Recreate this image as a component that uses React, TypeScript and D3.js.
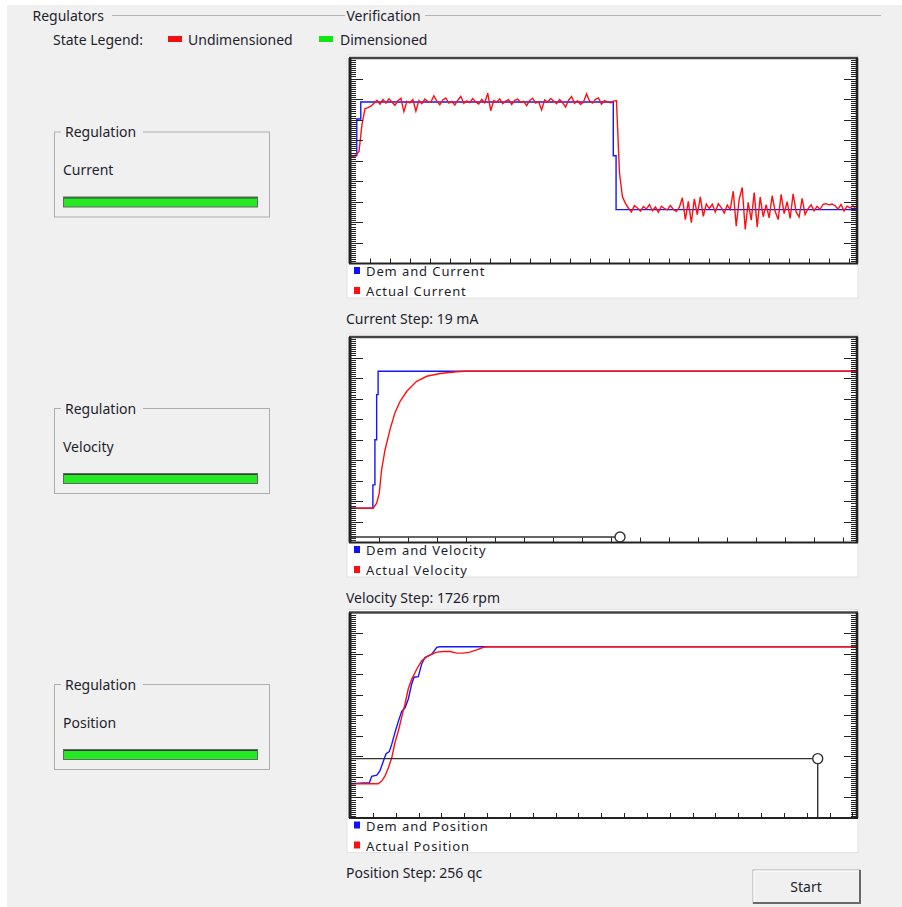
import React from "react";
import * as d3 from "d3";

// ---------- data read off the scopes ----------
// current loop (mA), demand is a step signal, actual sampled every 1.5 ms
const CURRENT_SAMPLE = 1.5;
const currentDemandT = [0, 3.4, 5.4, 131.9, 133.3, 254];
const currentDemand = [0, 13, 19, 0, -19, -19];
const currentActual = [
  -0.5, -0.3, 0.3, 1.5, 11, 16.6, 17, 17.5, 18.5,
  19.6, 18.2, 19.9, 18.6, 20.1, 19.0, 17.8, 19.4, 20.3, 15.6,
  19.2, 18.7, 19.8, 15.8, 19.5, 18.4, 20.0, 19.1, 18.9, 21.2,
  19.3, 18.0, 19.7, 20.4, 18.6, 19.2, 17.9, 19.6, 21.0, 18.5,
  19.4, 18.8, 20.2, 19.0, 18.3, 19.9, 18.7, 22.1, 15.9, 19.5,
  18.9, 20.1, 18.4, 19.3, 19.8, 18.1, 19.6, 20.0, 18.8, 19.2,
  17.7, 19.5, 20.3, 18.6, 19.1, 16.2, 19.7, 18.9, 20.2, 19.3,
  18.4, 19.8, 18.8, 17.2, 19.6, 20.9, 18.5, 19.4, 18.1, 19.0,
  21.8, 19.3, 18.6, 19.9, 20.4, 18.2, 19.5, 19.0, 18.7, 19.3,
  19.5,
  -6, -14.5, -16.8, -18.5,
  -19.8, -17.6, -18.4, -19.5, -17.9, -18.8, -17.2, -19.4, -18.1, -19.9, -17.8, -18.6, -19.1, -17.5, -18.9, -19.6, -18.2,
  -14.8, -22.5, -16.1, -23.6, -15.2, -20.8, -14.5, -21.4, -17.0,
  -18.6, -17.1, -19.8, -16.9, -18.3, -20.2, -17.4, -19.0,
  -12.5, -24.8, -15.3, -11.2, -26.0, -16.4, -22.7, -13.0, -25.1, -14.6, -21.5, -17.2,
  -21.9, -14.1, -19.6, -22.5, -13.6, -20.4, -16.2, -22.1, -13.4, -19.8, -21.6, -15.0, -20.7,
  -18.6, -17.3, -19.4, -17.8, -18.9, -17.1, -16.9, -17.3, -17.0, -17.6, -18.8, -17.2, -19.5, -17.8, -18.4, -17.6, -18.9,
];

// velocity loop (rpm)
const velocityDemandT = [0, 7.9, 8.6, 9.2, 9.7, 175];
const velocityDemand = [0, 295, 863, 1432, 1726, 1726];
const velocityActualT = [0, 8.0, 9.2, 10.1, 10.9, 12.1, 13.8, 15.5, 17.3, 19.6, 23.0, 26.5, 31.1, 36.8, 39.6, 175];
const velocityActual = [0, 0, 63, 190, 484, 737, 990, 1201, 1347, 1474, 1600, 1663, 1698, 1719, 1726, 1726];

// position loop (qc)
const positionDemandT = [0, 8.5, 9.5, 11.7, 13.1, 14.6, 15.8, 17.2, 18.3, 19.7, 21.2, 22.6, 24.1, 25.5, 27.0, 28.0, 29.9, 31.4, 32.8, 34.3, 35.8, 38.0, 39.3, 222];
const positionDemand = [0, 2, 14, 16, 24, 42, 56, 60, 74, 96, 117, 135, 142, 158, 186, 199, 200, 224, 236, 239, 242, 255, 256, 256];
const positionActualT = [0, 12.3, 13.9, 15.3, 16.8, 18.3, 19.7, 21.2, 22.6, 24.1, 25.5, 27.0, 29.2, 31.4, 33.6, 35.8, 38.0, 40.9, 43.8, 46.7, 49.6, 52.5, 55.5, 58.4, 59.9, 222];
const positionActual = [0, 0, 5, 14, 30, 49, 77, 99, 124, 149, 177, 195, 214, 230, 237, 242, 246, 247, 247, 244, 244, 246, 250, 255, 256, 256];

const regulators = ["Current", "Velocity", "Position"];
const stepTexts = ["Current Step: 19 mA", "Velocity Step: 1726 rpm", "Position Step: 256 qc"];
const demandLabels = ["Dem and Current", "Dem and Velocity", "Dem and Position"];
const actualLabels = ["Actual  Current", "Actual  Velocity", "Actual  Position"];

const FONT = "'Noto Sans', 'Open Sans', sans-serif";
const TXT = "#1e1e2e";
const BG = "#f0f0f0";
const X0 = 350;
const X1 = 857;
const PH = 205.5;

type Pt = [number, number];

const zip = (t: number[], v: number[]): Pt[] => t.map((d, i) => [d, v[i]]);

const scopes = [
  {
    top: 58,
    xMax: 254,
    yDomain: [-38, 34.5],
    demand: zip(currentDemandT, currentDemand),
    demandStep: true,
    actual: currentActual.map((v, i) => [i * CURRENT_SAMPLE, v] as Pt),
    marker: null as null | Pt,
  },
  {
    top: 337,
    xMax: 175,
    yDomain: [-431.5, 2157.5],
    demand: zip(velocityDemandT, velocityDemand),
    demandStep: true,
    actual: zip(velocityActualT, velocityActual),
    marker: [93.2, -363] as Pt,
  },
  {
    top: 612.5,
    xMax: 222,
    yDomain: [-64, 320],
    demand: zip(positionDemandT, positionDemand),
    demandStep: false,
    actual: zip(positionActualT, positionActual),
    marker: [204.8, 47] as Pt,
  },
];

function Scope({ cfg, idx }: { cfg: (typeof scopes)[number]; idx: number }) {
  const top = cfg.top;
  const bottom = top + PH;
  const x = d3.scaleLinear().domain([0, cfg.xMax]).range([X0, X1]);
  const y = d3.scaleLinear().domain(cfg.yDomain).range([bottom, top]);
  const line = d3.line<Pt>().x((d) => x(d[0])).y((d) => y(d[1]));
  const demandPath = (cfg.demandStep ? line.curve(d3.curveStepAfter) : line.curve(d3.curveLinear))(cfg.demand) || "";
  const actualPath = d3.line<Pt>().x((d) => x(d[0])).y((d) => y(d[1]))(cfg.actual) || "";
  // axis graduations: 10 major divisions, 10 minor each
  const div = d3.scaleLinear().domain([0, 100]).range([bottom, top]);
  const yTicks = d3.range(1, 100);
  const xTicks = d3.range(10, cfg.xMax, 10);
  const clip = `clip${idx}`;
  return (
    <g>
      <rect x={347} y={top - 3} width={511} height={243} fill="#fff" stroke="#e2e2e2" />
      <defs>
        <clipPath id={clip}>
          <rect x={X0} y={top} width={X1 - X0} height={PH} />
        </clipPath>
      </defs>
      <g clipPath={`url(#${clip})`} fill="none" strokeWidth={1.4}>
        <path d={demandPath} stroke="#1414ff" />
        <path d={actualPath} stroke="#ff1010" />
      </g>
      {cfg.marker && (
        <g stroke="#333" strokeWidth={1.4}>
          <line x1={X0} x2={x(cfg.marker[0])} y1={y(cfg.marker[1])} y2={y(cfg.marker[1])} />
          <line x1={x(cfg.marker[0])} x2={x(cfg.marker[0])} y1={y(cfg.marker[1])} y2={bottom} />
          <circle cx={x(cfg.marker[0])} cy={y(cfg.marker[1])} r={5} fill="#fff" />
        </g>
      )}
      <g stroke="#222" strokeWidth={1}>
        {yTicks.map((t) => {
          const len = t % 10 === 0 ? 13 : 6;
          const yy = Math.round(div(t)) + 0.5;
          return (
            <g key={t}>
              <line x1={X0} x2={X0 + len} y1={yy} y2={yy} />
              <line x1={X1} x2={X1 - len} y1={yy} y2={yy} />
            </g>
          );
        })}
        {xTicks.map((t) => (
          <line key={t} x1={Math.round(x(t)) + 0.5} x2={Math.round(x(t)) + 0.5} y1={bottom} y2={bottom - 5} />
        ))}
      </g>
      <g fill="none" stroke="#222">
        <line x1={X0 - 1} x2={X1 + 1} y1={top} y2={top} strokeWidth={2.5} stroke="#444" />
        <line x1={X0 - 1} x2={X1 + 1} y1={bottom} y2={bottom} strokeWidth={2} />
        <line x1={X0} x2={X0} y1={top} y2={bottom} strokeWidth={3} />
        <line x1={X1} x2={X1} y1={top} y2={bottom} strokeWidth={2.5} />
      </g>
      <g fontFamily={FONT} fontSize={13} fill={TXT} letterSpacing={0.9} style={{ whiteSpace: "pre" }}>
        <rect x={354} y={top + 209} width={6} height={7} fill="#1010ff" />
        <text x={366} y={top + 218}>{demandLabels[idx]}</text>
        <rect x={354} y={top + 229} width={6} height={7} fill="#ff1010" />
        <text x={366} y={top + 238}>{actualLabels[idx]}</text>
      </g>
      <text x={346} y={top + 265.5} fontFamily={FONT} fontSize={14} fill={TXT}>
        {stepTexts[idx]}
      </text>
    </g>
  );
}

function RegBox({ top, name }: { top: number; name: string }) {
  return (
    <g fontFamily={FONT} fontSize={14} fill={TXT}>
      <rect x={54.5} y={top + 0.5} width={215} height={85} fill="none" stroke="#adadad" />
      <rect x={61} y={top - 4} width={82} height={9} fill={BG} />
      <text x={65} y={top + 5.5}>Regulation</text>
      <text x={63} y={top + 43.5}>{name}</text>
      <rect x={63.5} y={top + 65.5} width={194} height={10} fill="#24ea24" stroke="#666" />
      <line x1={64} x2={257} y1={top + 66.5} y2={top + 66.5} stroke="#3a3a3a" />
    </g>
  );
}

export default function App() {
  const boxTops = [131.5, 408, 684];
  return (
    <svg
      width={902}
      height={907}
      style={{ position: "absolute", left: 0, top: 0, display: "block" }}
    >
      <rect width={902} height={907} fill="#fff" />
      <rect x={7} y={5} width={895} height={902} fill={BG} />
      <g fontFamily={FONT} fontSize={14} fill={TXT}>
        <text x={32.5} y={20.5}>Regulators</text>
        <line x1={112} x2={345} y1={15.5} y2={15.5} stroke="#b4b4b4" />
        <text x={346.5} y={20.5}>Verification</text>
        <line x1={425} x2={881} y1={15.5} y2={15.5} stroke="#b4b4b4" />
        <text x={53} y={45}>State Legend:</text>
        <rect x={168} y={36} width={14} height={6} fill="#f01010" />
        <text x={188} y={45}>Undimensioned</text>
        <rect x={319} y={36} width={14} height={6} fill="#10e810" />
        <text x={340} y={45}>Dimensioned</text>
      </g>
      {regulators.map((r, i) => (
        <RegBox key={r} top={boxTops[i]} name={r} />
      ))}
      {scopes.map((s, i) => (
        <Scope key={i} cfg={s} idx={i} />
      ))}
      <g>
        <rect x={753} y={870} width={107} height={33} fill="#f0f0f0" stroke="#adadad" />
        <line x1={754} x2={859} y1={871} y2={871} stroke="#fff" />
        <line x1={754} x2={754} y1={871} y2={902} stroke="#fff" />
        <line x1={753} x2={860.5} y1={903} y2={903} stroke="#696969" strokeWidth={2} />
        <line x1={860} x2={860} y1={870} y2={904} stroke="#696969" strokeWidth={2} />
        <text x={806} y={891.5} textAnchor="middle" fontFamily={FONT} fontSize={14} fill={TXT}>
          Start
        </text>
      </g>
    </svg>
  );
}
